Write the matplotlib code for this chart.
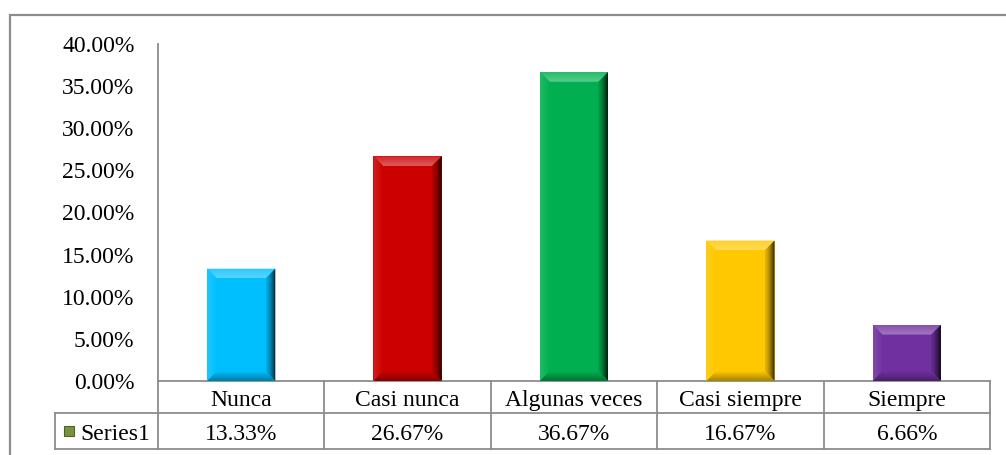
import numpy as np
import matplotlib
matplotlib.use("Agg")
import matplotlib.pyplot as plt
from matplotlib.patches import Polygon, Rectangle
from matplotlib.colors import to_rgb
from matplotlib.ticker import FuncFormatter
from matplotlib.transforms import blended_transform_factory

# Datos
categorias = ["Nunca", "Casi nunca", "Algunas veces", "Casi siempre", "Siempre"]
valores = [0.1333, 0.2667, 0.3667, 0.1667, 0.0666]
etiquetas = ["13.33%", "26.67%", "36.67%", "16.67%", "6.66%"]
colores = ["#00BFFF", "#CC0000", "#00B050", "#FFC800", "#7030A0"]
serie = "Series1"

plt.rcParams['font.family'] = ['Liberation Serif', 'DejaVu Serif']
FS = 17
GRIS = "#8c8c8c"

W, H = 1006, 455
fig = plt.figure(figsize=(W / 100, H / 100), dpi=100)

# marco exterior
fig.patches.append(Rectangle((10 / W, -0.1), 1.2, 1.1 - 15 / H,
                             transform=fig.transFigure, fill=False,
                             edgecolor=GRIS, linewidth=1.6))

x0, x1, ytop, y0 = 158, 990, 44, 381
ax = fig.add_axes([x0 / W, (H - y0) / H, (x1 - x0) / W, (y0 - ytop) / H])

x = np.arange(len(categorias))
bars = ax.bar(x, valores, width=0.41, color=colores, zorder=2)

ax.set_xlim(-0.5, len(categorias) - 0.5)
ax.set_ylim(0, 0.40)
ax.set_yticks(np.arange(0, 0.401, 0.05))
ax.yaxis.set_major_formatter(FuncFormatter(lambda v, p: f"{v * 100:.2f}%"))
ax.tick_params(axis='y', length=0, pad=17, labelsize=FS)
ax.set_xticks([])
for s in ["top", "right", "bottom"]:
    ax.spines[s].set_visible(False)
ax.spines["left"].set_color(GRIS)
ax.spines["left"].set_linewidth(1.3)


def mezcla(c, otro, t):
    c = np.array(to_rgb(c))
    return c * (1 - t) + np.array(otro) * t


# efecto bisel en cada barra
bx, by = 0.058, 0.0115
for b, c in zip(bars, colores):
    l, w, h = b.get_x(), b.get_width(), b.get_height()
    r = l + w
    base = np.array(to_rgb(c))
    lados = {
        "top": ([(l, h), (r, h), (r - bx, h - by), (l + bx, h - by)], mezcla(c, (1, 1, 1), 0.15), mezcla(c, (1, 1, 1), 0.35)),
        "left": ([(l, 0), (l, h), (l + bx, h - by), (l + bx, by)], mezcla(c, (1, 1, 1), 0.12), base),
        "right": ([(r, 0), (r, h), (r - bx, h - by), (r - bx, by)], mezcla(c, (0, 0, 0), 0.85), mezcla(c, (0, 0, 0), 0.1)),
        "bottom": ([(l, 0), (r, 0), (r - bx, by), (l + bx, by)], mezcla(c, (0, 0, 0), 0.35), base),
    }
    for nombre, (pts, ce, ci) in lados.items():
        poly = Polygon(pts, closed=True, facecolor="none", edgecolor="none")
        ax.add_patch(poly)
        t = np.linspace(0, 1, 64)
        if nombre == "top":
            img = (ci + (ce - ci) * t[:, None])[:, None, :]
            ext = (l, r, h - by, h)
        elif nombre == "bottom":
            img = (ce + (ci - ce) * t[:, None])[:, None, :]
            ext = (l, r, 0, by)
        elif nombre == "left":
            img = (ce + (ci - ce) * t[:, None])[None, :, :]
            ext = (l, l + bx, 0, h)
        else:
            img = (ci + (ce - ci) * t[:, None] ** 1.5)[None, :, :]
            ext = (r - bx, r, 0, h)
        im = ax.imshow(np.clip(img, 0, 1), extent=ext, origin="lower", aspect="auto",
                       interpolation="bilinear", zorder=3)
        im.set_clip_path(poly)

ax.set_xlim(-0.5, len(categorias) - 0.5)
ax.set_ylim(0, 0.40)

# tabla de datos bajo el eje
tr = blended_transform_factory(ax.transData, ax.transAxes)
ta = ax.transAxes
alto = y0 - ytop


def fy(py):
    return (y0 - py) / alto


def fx(px):
    return (px - x0) / (x1 - x0)


ya, yb, yc = fy(381), fy(413), fy(449)
xl = fx(55)
kw = dict(color=GRIS, linewidth=1.3, clip_on=False, transform=ta)
ax.plot([0, 1], [ya, ya], **kw)
ax.plot([xl, 1], [yb, yb], **kw)
ax.plot([xl, 1], [yc, yc], **kw)
ax.plot([xl, xl], [yb, yc], **kw)
ax.plot([0, 0], [ya, yc], **kw)
for k in range(1, len(categorias) + 1):
    xk = fx(x0 + k * (x1 - x0) / len(categorias))
    ax.plot([xk, xk], [ya, yc], **kw)

fila1, fila2 = fy(398), fy(432)
for xi, cat, et in zip(x, categorias, etiquetas):
    ax.text(xi, fila1, cat, transform=tr, ha="center", va="center_baseline", fontsize=FS)
    ax.text(xi, fila2, et, transform=tr, ha="center", va="center_baseline", fontsize=FS)

# clave de leyenda
ax.add_patch(Rectangle((fx(64), fy(436)), fx(74) - fx(64), fy(426) - fy(436),
                       transform=ta, clip_on=False, facecolor="#77933C",
                       edgecolor="#4F6228", linewidth=0.8))
ax.text(fx(80), fila2, serie, transform=ta, ha="left", va="center_baseline", fontsize=FS)

fig.savefig("out.png", dpi=100)
